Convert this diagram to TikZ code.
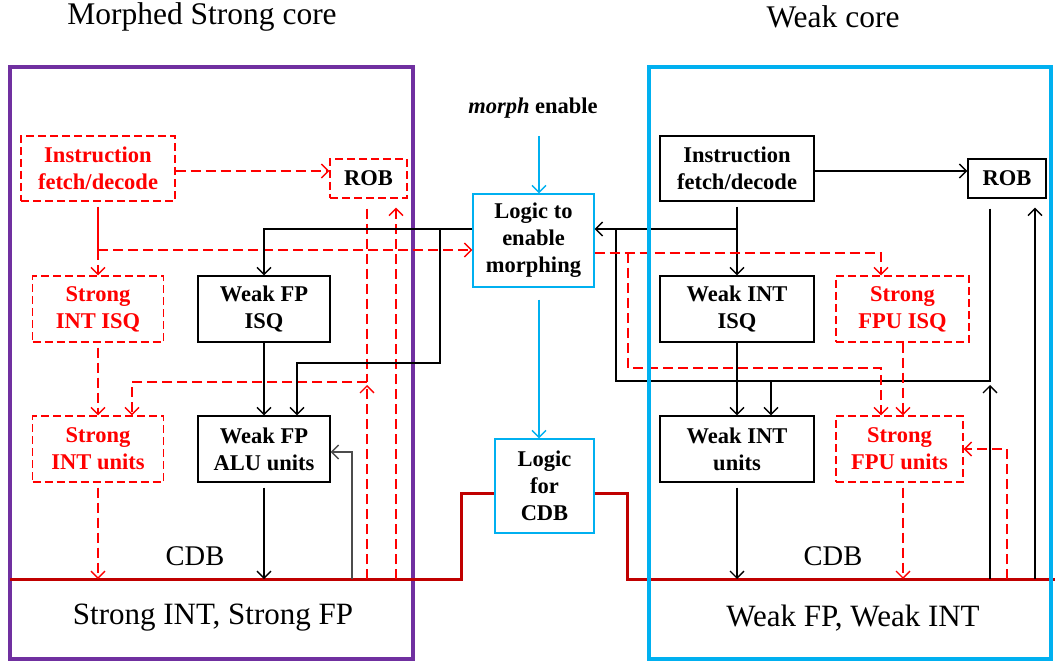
\documentclass[tikz,border=0pt]{standalone}
\usepackage{fontspec}
\setmainfont{Liberation Serif}
\usetikzlibrary{positioning,arrows.meta}

\definecolor{corepurple}{HTML}{7030A0}
\definecolor{corecyan}{HTML}{00B0F0}
\definecolor{busred}{HTML}{C00000}

\begin{document}
\begin{tikzpicture}[
  x=1pt, y=-1pt,
  font=\fontsize{22.5}{27}\selectfont\bfseries,
  weakbox/.style = {
    rectangle, draw=black, line width=1.4pt, align=center, inner sep=0pt,
  },
  strongbox/.style = {
    rectangle, draw=red, line width=1.4pt, dash pattern=on 8pt off 4pt,
    text=red, align=center, inner sep=0pt,
  },
  logicbox/.style = {
    rectangle, draw=corecyan, line width=1.4pt, align=center, inner sep=0pt,
  },
  plain/.style = {font=\fontsize{31.5}{36}\selectfont\mdseries},
  wire/.style = {line width=1.3pt, draw=black},
  warrow/.style = {wire, -{Straight Barb[length=7pt,width=14pt]}},
  garrow/.style = {line width=1.3pt, draw=black!70, -{Straight Barb[length=7pt,width=14pt]}},
  rwire/.style = {line width=1.3pt, draw=red, dash pattern=on 10pt off 5pt},
  rarrow/.style = {rwire, -{Straight Barb[length=7pt,width=14pt]}},
  carrow/.style = {line width=1.3pt, draw=corecyan, -{Straight Barb[length=7pt,width=14pt]}},
  bus/.style = {line width=3pt, draw=busred},
]
  \useasboundingbox (0,0) rectangle (1058,663);

  % core frames and titles
  \draw[corepurple, line width=4pt] (10,67) rectangle (413,659);
  \node[plain] (stitle) at (202,17) {Morphed Strong core};
  \node[plain] (wtitle) at (833,17) {Weak core};

  % strong core (left)
  \node[strongbox, minimum width=154pt, minimum height=65pt] (sIF)   at (98,168.5)  {Instruction\\fetch/decode};
  \node[strongbox, text=black, minimum width=77pt, minimum height=39pt] (sROB) at (368.5,178.5) {ROB};
  \node[strongbox, minimum width=131pt, minimum height=66pt] (sISQ)  at (98,309)    {Strong\\INT ISQ};
  \node[strongbox, minimum width=131pt, minimum height=66pt] (sINTu) at (98,449)    {Strong\\INT units};
  \node[weakbox,   minimum width=132pt, minimum height=66pt] (wFPISQ) at (264,309)  {Weak FP\\ISQ};
  \node[weakbox,   minimum width=132pt, minimum height=66pt] (wALU)   at (264,449)  {Weak FP\\ALU units};

  % morphing logic (middle)
  \node (menable) at (533,108) {{\itshape morph} enable};
  \node[logicbox, minimum width=121pt, minimum height=93pt] (logicM) at (533.5,240.5) {Logic to\\enable\\morphing};
  \node[logicbox, minimum width=99pt, minimum height=94pt]  (logicC) at (544.5,486)   {Logic\\for\\CDB};

  % weak core (right)
  \node[weakbox,   minimum width=154pt, minimum height=65pt] (wIF)    at (737,168.5)  {Instruction\\fetch/decode};
  \node[weakbox,   minimum width=78pt,  minimum height=39pt] (wROB)   at (1007,178.5) {ROB};
  \node[weakbox,   minimum width=154pt, minimum height=66pt] (wISQ)   at (737,309)    {Weak INT\\ISQ};
  \node[weakbox,   minimum width=154pt, minimum height=66pt] (wINTu)  at (737,449)    {Weak INT\\units};
  \node[strongbox, minimum width=133pt, minimum height=66pt] (sFPUISQ) at (902.5,309) {Strong\\FPU ISQ};
  \node[strongbox, minimum width=127pt, minimum height=66pt] (sFPUu)   at (899.5,449) {Strong\\FPU units};

  % junctions
  \coordinate (busL)   at (10,579);
  \coordinate (busR)   at (1055,579);
  \coordinate (stepL)  at (461,493);
  \coordinate (stepR)  at (627,493);
  \coordinate (sFork)  at (98,250);
  \coordinate (wFork)  at (737,229);
  \coordinate (lTap)   at (440,229);
  \coordinate (lBend)  at (440,363);
  \coordinate (rBend)  at (367,382);
  \coordinate (aluIn)  at (352,452);
  \coordinate (morphIn) at (539,136);
  \coordinate (wBendL) at (616,381);
  \coordinate (wBendR) at (990,381);
  \coordinate (fTap)   at (628,253);
  \coordinate (fBend)  at (628,368);
  \coordinate (fpuIn)  at (1007,449);

  % CDB
  \draw[bus] (busL) -| (stepL) -- (stepL -| logicC.west);
  \draw[bus] (stepR -| logicC.east) -- (stepR) |- (busR);
  \node[plain, font=\fontsize{28.5}{34}\selectfont\mdseries] (scdb) at (195,556) {CDB};
  \node[plain, font=\fontsize{28.5}{34}\selectfont\mdseries] (wcdb) at (833,556) {CDB};
  \node[plain, font=\fontsize{31}{36}\selectfont\mdseries] (sunits) at (213,618) {Strong INT, Strong FP};
  \node[plain, font=\fontsize{31}{36}\selectfont\mdseries] (wunits) at (853,618) {Weak FP, Weak INT};

  % strong core connectors
  \draw[rarrow] ([yshift=-2.5pt]sIF.east) -- ([yshift=-2.5pt]sIF.east -| sROB.west);
  \draw[line width=1.3pt, red, shorten <=5pt] (sIF.south) -- (sFork);
  \draw[rarrow] (sFork) -- (sISQ.north);
  \draw[rarrow] (sFork) -- (logicM.west |- sFork);
  \draw[rarrow, shorten <=5pt] (sISQ.south) -- (sINTu.north);
  \draw[rarrow, shorten <=5pt] (sINTu.south) -- (sINTu.south |- busL);
  \draw[rwire, shorten <=10pt] (sROB.south -| rBend) -- (rBend);
  \draw[rarrow] (rBend) -| ([xshift=34pt]sINTu.north);
  \draw[rarrow] (rBend |- busL) -- ([yshift=-3pt]rBend);
  \draw[rarrow, shorten >=9pt] ([xshift=27.5pt]sROB.south |- busL) -- ([xshift=27.5pt]sROB.south);
  \draw[warrow] (logicM.west |- wFork) -| (wFPISQ.north);
  \draw[warrow] (lTap) -- (lBend) -| ([xshift=33pt]wALU.north);
  \draw[warrow] (wFPISQ.south) -- (wALU.north);
  \draw[warrow, shorten <=5pt] (wALU.south) -- (wALU.south |- busL);
  \draw[garrow] (aluIn |- busL) -- (aluIn) -- (aluIn -| wALU.east);

  % morphing logic connectors
  \draw[carrow] (morphIn) -- (morphIn |- logicM.north);
  \draw[carrow, shorten <=12pt] (logicM.south -| morphIn) -- (morphIn |- logicC.north);

  % weak core connectors
  \draw[warrow] ([yshift=-2.5pt]wIF.east) -- ([yshift=-2.5pt]wIF.east -| wROB.west);
  \draw[wire, shorten <=5pt] (wIF.south) -- (wFork);
  \draw[warrow] (wFork) -- (wISQ.north);
  \draw[warrow] (wFork) -- (logicM.east |- wFork);
  \draw[wire, shorten <=10pt] (wROB.south -| wBendR) -- (wBendR) -- (wBendL) -- (wBendL |- wFork);
  \draw[warrow] ([xshift=34pt]wINTu.north |- wBendL) -- ([xshift=34pt]wINTu.north);
  \draw[warrow] (wBendR |- busR) -- ([yshift=-4pt]wBendR);
  \draw[warrow, shorten >=9pt] ([xshift=28pt]wROB.south |- busR) -- ([xshift=28pt]wROB.south);
  \draw[warrow] (wISQ.south) -- (wINTu.north);
  \draw[warrow, shorten <=5pt] (wINTu.south) -- (wINTu.south |- busR);
  \draw[rarrow] (logicM.east |- fTap) -| ([xshift=-21.5pt]sFPUISQ.north);
  \draw[rarrow] (fTap) -- (fBend) -| ([xshift=-18.5pt]sFPUu.north);
  \draw[rarrow] ([xshift=0.5pt]sFPUISQ.south) -- ([xshift=0.5pt]sFPUISQ.south |- sFPUu.north);
  \draw[rarrow, shorten <=5pt] ([xshift=3.5pt]sFPUu.south) -- ([xshift=3.5pt]sFPUu.south |- busR);
  \draw[rarrow] (fpuIn |- busR) -- (fpuIn) -- (fpuIn -| sFPUu.east);

  \draw[corecyan, line width=4pt] (649,67) rectangle (1051,659);
\end{tikzpicture}
\end{document}
